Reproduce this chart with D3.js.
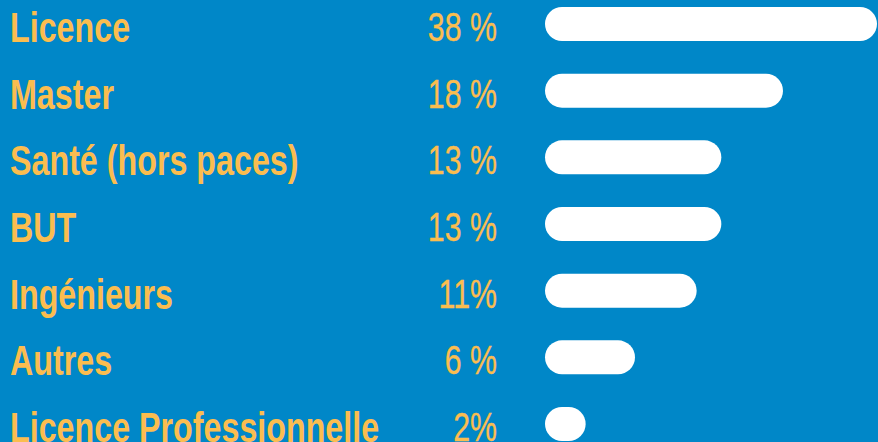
<!DOCTYPE html>
<html>
<head>
<meta charset="utf-8">
<script src="https://cdn.jsdelivr.net/npm/d3@7"></script>
<style>
  body { margin: 0; background: #0087c8; }
  svg { display: block; }
</style>
</head>
<body>
<div id="chart"></div>
<script>
// Daten
var categories = ["Licence", "Master", "Santé (hors paces)", "BUT", "Ingénieurs", "Autres", "Licence Professionnelle"];
var values = [38, 18, 13, 13, 11, 6, 2];
var valueLabels = ["38 %", "18 %", "13 %", "13 %", "11%", "6 %", "2%"];

var width = 878, height = 442;
var barLeft = 545, barH = 34;

var svg = d3.select("#chart")
    .append("svg")
    .attr("width", width)
    .attr("height", height);

svg.append("rect")
    .attr("width", width)
    .attr("height", height)
    .attr("fill", "#0087c8");

// y: Zeilen
var y = d3.scalePoint()
    .domain(categories)
    .range([24, 424]);

// Balkenlänge (der erste Balken läuft aus dem Bild)
var w = d3.scaleLinear()
    .domain([0, 18])
    .range([16, 238]);

var rows = categories.map(function (c, i) {
    return { cat: c, value: values[i], label: valueLabels[i] };
});

svg.selectAll("rect.bar")
    .data(rows)
    .enter()
    .append("rect")
    .attr("class", "bar")
    .attr("x", barLeft)
    .attr("y", function (d) { return y(d.cat) - barH / 2; })
    .attr("width", function (d) { return Math.min(w(d.value), width - barLeft - 1); })
    .attr("height", barH)
    .attr("rx", barH / 2)
    .attr("fill", "#ffffff");

// schmale Schrift: horizontal gestaucht
svg.selectAll("text.cat")
    .data(rows)
    .enter()
    .append("text")
    .attr("class", "cat")
    .attr("transform", function (d) { return "translate(10," + (y(d.cat) + 18) + ") scale(0.75,1)"; })
    .attr("font-family", "Liberation Sans, Arial, sans-serif")
    .attr("font-weight", "bold")
    .attr("font-size", "43px")
    .attr("fill", "#fbbd4f")
    .text(function (d) { return d.cat; });

svg.selectAll("text.val")
    .data(rows)
    .enter()
    .append("text")
    .attr("class", "val")
    .attr("transform", function (d) { return "translate(497," + (y(d.cat) + 17) + ") scale(0.74,1)"; })
    .attr("text-anchor", "end")
    .attr("font-family", "Liberation Sans, Arial, sans-serif")
    .attr("font-size", "41px")
    .attr("fill", "#fbbd4f")
    .attr("stroke", "#fbbd4f")
    .attr("stroke-width", 0.35)
    .text(function (d) { return d.label; });
</script>
</body>
</html>
